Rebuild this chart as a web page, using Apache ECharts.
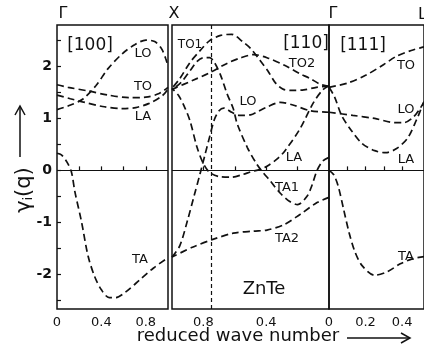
<!DOCTYPE html>
<html>
<head>
<meta charset="utf-8">
<script src="https://cdn.jsdelivr.net/npm/echarts@6/dist/echarts.min.js"></script>
<style>
  html, body { margin: 0; padding: 0; background: #fff; }
  #chart { width: 424px; height: 353px; }
</style>
</head>
<body>
<div id="chart"></div>
<script>
// tick labels
const yTickLabels = [-2, -1, 0, 1, 2];
const x100Labels = [0, 0.4, 0.8];
const x110Labels = [0.8, 0.4, 0];
const x111Labels = [0.2, 0.4];

// [100] branches, q from Gamma (0) to X (1)
const to100 = [[0,1.65],[0.1,1.6],[0.28,1.53],[0.46,1.45],[0.65,1.4],[0.8,1.41],[0.92,1.48],[1,1.6]];
const la100 = [[0,1.45],[0.12,1.38],[0.23,1.32],[0.41,1.23],[0.59,1.19],[0.71,1.21],[0.83,1.29],[0.95,1.44],[1,1.56]];
const lo100 = [[0,1.17],[0.1,1.24],[0.23,1.37],[0.35,1.63],[0.46,1.96],[0.59,2.25],[0.7,2.42],[0.8,2.51],[0.88,2.48],[0.94,2.35],[0.98,2.15],[1,2.0]];
const ta100 = [[0,0.33],[0.04,0.3],[0.09,0.16],[0.13,-0.03],[0.16,-0.4],[0.22,-0.98],[0.28,-1.65],[0.34,-2.05],[0.4,-2.3],[0.47,-2.45],[0.53,-2.45],[0.62,-2.34],[0.75,-2.1],[0.87,-1.88],[1,-1.68]];

// [110] branches, q from Gamma (0) to X (1), axis drawn reversed
const to1_110 = [[0,1.62],[0.08,1.6],[0.16,1.55],[0.23,1.54],[0.29,1.56],[0.34,1.68],[0.39,1.92],[0.44,2.12],[0.5,2.35],[0.55,2.48],[0.62,2.62],[0.69,2.6],[0.76,2.5],[0.82,2.31],[0.885,2.08],[0.95,1.77],[1,1.58]];
const to2_110 = [[0,1.62],[0.057,1.66],[0.12,1.77],[0.185,1.86],[0.28,2.02],[0.395,2.17],[0.48,2.23],[0.57,2.16],[0.65,2.06],[0.76,1.88],[0.87,1.73],[1,1.56]];
const lo110 = [[0,1.12],[0.12,1.15],[0.23,1.26],[0.31,1.31],[0.395,1.22],[0.45,1.14],[0.5,1.07],[0.57,1.06],[0.62,1.12],[0.67,1.2],[0.7,1.15],[0.73,0.98],[0.76,0.65],[0.79,0.3],[0.82,-0.05],[0.86,-0.5],[0.9,-0.95],[0.95,-1.45],[1,-1.67]];
const la110 = [[0,1.63],[0.04,1.55],[0.1,1.3],[0.185,0.8],[0.28,0.38],[0.33,0.22],[0.395,0.08],[0.44,0.02],[0.5,-0.03],[0.55,-0.08],[0.62,-0.13],[0.7,-0.12],[0.76,-0.04],[0.8,0.13],[0.84,0.44],[0.885,0.95],[0.92,1.22],[0.96,1.45],[1,1.58]];
const ta1_110 = [[0,0.25],[0.04,0.18],[0.076,0],[0.11,-0.3],[0.14,-0.5],[0.2,-0.66],[0.25,-0.6],[0.31,-0.44],[0.375,-0.2],[0.42,-0.04],[0.46,0.12],[0.52,0.44],[0.585,0.9],[0.61,1.19],[0.65,1.48],[0.69,1.83],[0.73,2.08],[0.76,2.17],[0.8,2.17],[0.84,2.1],[0.885,1.92],[0.94,1.7],[1,1.55]];
const ta2_110 = [[0,-0.52],[0.076,-0.62],[0.185,-0.85],[0.29,-1.05],[0.395,-1.15],[0.48,-1.17],[0.61,-1.21],[0.74,-1.33],[0.87,-1.48],[1,-1.67]];

// [111] branches, q from Gamma (0) towards L (0.5)
const to111 = [[0,1.6],[0.1,1.68],[0.2,1.83],[0.3,2.04],[0.37,2.2],[0.45,2.31],[0.5,2.36],[0.52,2.38]];
const lo111 = [[0,1.12],[0.13,1.06],[0.25,1.0],[0.36,0.92],[0.41,0.92],[0.46,1.02],[0.5,1.2],[0.52,1.32]];
const la111 = [[0,1.6],[0.03,1.42],[0.07,1.05],[0.12,0.78],[0.18,0.52],[0.25,0.38],[0.31,0.34],[0.37,0.42],[0.43,0.62],[0.48,0.98],[0.5,1.15],[0.52,1.32]];
const ta111 = [[0,0],[0.025,-0.08],[0.05,-0.3],[0.08,-0.75],[0.11,-1.2],[0.14,-1.55],[0.18,-1.83],[0.25,-2.02],[0.32,-1.95],[0.39,-1.8],[0.46,-1.7],[0.52,-1.66]];

const FONT = "DejaVu Sans";
const INK = "#111";
const Y_MIN = -2.67, Y_MAX = 2.8;

function curve(gi, data, extra) {
  return Object.assign({
    type: "line",
    xAxisIndex: gi,
    yAxisIndex: gi,
    data: data,
    showSymbol: false,
    smooth: 0.3,
    silent: true,
    lineStyle: { color: INK, width: 1.7, type: [7, 4] },
  }, extra || {});
}

function refLines(items) {
  return {
    markLine: {
      symbol: ["none", "none"],
      silent: true,
      animation: false,
      label: { show: false },
      lineStyle: { color: INK, width: 1.2, type: "solid" },
      data: items,
    },
  };
}

function xAxisFor(gi, max, inverse, labels, ticks) {
  return {
    type: "value",
    gridIndex: gi,
    min: 0,
    max: max,
    inverse: inverse,
    axisLine: { show: false },
    splitLine: { show: false },
    axisTick: { show: true, inside: true, length: 4, customValues: ticks, lineStyle: { color: INK, width: 1.2 } },
    axisLabel: {
      show: labels.length > 0,
      customValues: labels,
      margin: 7,
      color: INK,
      fontFamily: FONT,
      fontSize: 13,
      formatter: (v) => String(v),
    },
  };
}

function yAxisFor(gi, visible) {
  return {
    type: "value",
    gridIndex: gi,
    min: Y_MIN,
    max: Y_MAX,
    axisLine: { show: false },
    splitLine: { show: false },
    axisTick: { show: visible, inside: true, length: 4, customValues: [-2.5,-2,-1.5,-1,-0.5,0,0.5,1,1.5,2,2.5], lineStyle: { color: INK, width: 1.2 } },
    axisLabel: {
      show: visible,
      customValues: yTickLabels,
      margin: 5,
      color: INK,
      fontFamily: FONT,
      fontSize: 14,
      fontWeight: "bold",
      formatter: (v) => String(v),
    },
  };
}

function txt(s, x, y, size, extra) {
  return {
    type: "text",
    x: x,
    y: y,
    silent: true,
    style: Object.assign({
      text: s,
      fill: INK,
      font: size + "px '" + FONT + "'",
      align: "center",
      verticalAlign: "middle",
    }, extra || {}),
  };
}

const gridBox = { show: true, borderColor: INK, borderWidth: 1.5, backgroundColor: "transparent", top: 25, height: 284 };

const option = {
  animation: false,
  backgroundColor: "#fff",
  grid: [
    Object.assign({ left: 57, width: 111 }, gridBox),
    Object.assign({ left: 172, width: 157 }, gridBox),
    Object.assign({ left: 329, width: 99 }, gridBox),
  ],
  xAxis: [
    xAxisFor(0, 1, false, x100Labels, [0.2, 0.4, 0.6, 0.8]),
    xAxisFor(1, 1, true, x110Labels, [0.2, 0.4, 0.6, 0.8]),
    xAxisFor(2, 0.52, false, x111Labels, [0.1, 0.2, 0.3, 0.4]),
  ],
  yAxis: [yAxisFor(0, true), yAxisFor(1, false), yAxisFor(2, false)],
  series: [
    curve(0, to100, refLines([{ yAxis: 0 }])),
    curve(0, la100),
    curve(0, lo100),
    curve(0, ta100),
    curve(1, to1_110, refLines([{ yAxis: 0 }, { xAxis: 0.75, lineStyle: { type: [4, 3], width: 1.2, color: INK } }])),
    curve(1, to2_110),
    curve(1, lo110),
    curve(1, la110),
    curve(1, ta1_110),
    curve(1, ta2_110),
    curve(2, to111, refLines([{ yAxis: 0 }])),
    curve(2, lo111),
    curve(2, la111),
    curve(2, ta111),
  ],
  graphic: [
    // symmetry points
    txt("Γ", 63, 14, 16),
    txt("X", 174, 14, 16),
    txt("Γ", 333, 14, 16),
    txt("L", 418, 15, 16, { align: "left" }),
    // directions
    txt("[100]", 90, 46, 17),
    txt("[110]", 306, 44, 17),
    txt("[111]", 363, 46, 17),
    // [100] branches
    txt("LO", 143, 54, 13),
    txt("TO", 143, 87, 13),
    txt("LA", 143, 117, 13),
    txt("TA", 140, 260, 13),
    // [110] branches
    txt("TO1", 190, 45, 12),
    txt("TO2", 302, 64, 13),
    txt("LO", 248, 102, 13),
    txt("LA", 294, 158, 13),
    txt("TA1", 287, 188, 13),
    txt("TA2", 287, 239, 13),
    // [111] branches
    txt("TO", 406, 66, 13),
    txt("LO", 406, 110, 13),
    txt("LA", 406, 160, 13),
    txt("TA", 406, 257, 13),
    txt("ZnTe", 264, 289, 18),
    // axis titles
    txt("reduced wave number", 238, 336, 18),
    { type: "line", silent: true, shape: { x1: 347, y1: 338, x2: 409, y2: 338 }, style: { stroke: INK, lineWidth: 1.5 } },
    { type: "polyline", silent: true, shape: { points: [[401, 333], [410, 338], [401, 343]] }, style: { stroke: INK, lineWidth: 1.5, fill: null } },
    {
      type: "text",
      x: 22,
      y: 190,
      rotation: Math.PI / 2,
      silent: true,
      style: {
        text: "{g|γ}{s|i}{g|(q)}",
        fill: INK,
        align: "center",
        verticalAlign: "middle",
        rich: {
          g: { fontFamily: FONT, fontSize: 21, lineHeight: 26, verticalAlign: "bottom", fill: INK },
          s: { fontFamily: FONT, fontSize: 12, lineHeight: 26, verticalAlign: "bottom", fill: INK },
        },
      },
    },
    { type: "line", silent: true, shape: { x1: 20, y1: 157, x2: 20, y2: 107 }, style: { stroke: INK, lineWidth: 1.5 } },
    { type: "polyline", silent: true, shape: { points: [[15, 115], [20, 106], [25, 115]] }, style: { stroke: INK, lineWidth: 1.5, fill: null } },
  ],
};

const chart = echarts.init(document.getElementById("chart"), null, { renderer: "canvas" });
chart.setOption(option);
</script>
</body>
</html>
